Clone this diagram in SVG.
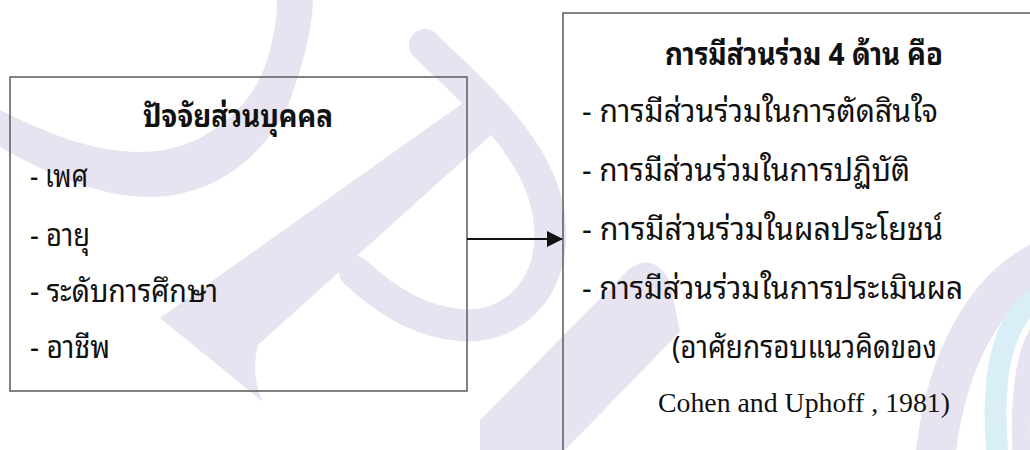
<svg xmlns="http://www.w3.org/2000/svg" width="1030" height="450" viewBox="0 0 1030 450">
  <style>
    .wm { fill: #e7e3f0; stroke: none; }
    .wms { fill: none; stroke: #e7e3f0; }
    .box { fill: none; stroke: #5a5a5a; stroke-width: 1.5; }
    .th { font-family: "Noto Sans Thai Looped", "Noto Serif Thai", "Noto Sans Thai", "Liberation Sans", sans-serif; fill: #111; }
    .thb { font-family: "Noto Sans Thai Looped", "Noto Serif Thai", "Noto Sans Thai", "Liberation Sans", sans-serif; font-weight: bold; fill: #111; }
    .en { font-family: "Liberation Serif", "Times New Roman", serif; fill: #111; }
  </style>
  <defs>
    <marker id="arrow" viewBox="0 0 16 16" refX="15" refY="8" markerWidth="16" markerHeight="16" markerUnits="userSpaceOnUse" orient="auto">
      <path d="M0,0 L16,8 L0,16 Z" fill="#111"/>
    </marker>
  </defs>
  <rect width="1030" height="450" fill="#ffffff"/>
  <g id="watermark">
    <path class="wm" d="M0,147 C50,175 100,197 150,197 C210,197 265,160 290,100 C303,65 312,30 313,0 L277,0 C277,30 268,70 250,95 C220,135 180,152 140,152 C90,152 40,130 0,110 Z"/>
    <path class="wm" d="M263,402 L160,318 L470,98 L510,118 L258,345 Q250,375 263,402 Z"/>
    <path class="wms" stroke-width="32" stroke-linecap="round" d="M425,45 C470,90 545,150 550,225 C555,290 510,330 460,325 C420,322 385,300 355,272"/>
    <path class="wm" d="M480,420 L630,268 Q655,252 670,282 L680,332 L563,452 L480,452 Z"/>
    <path class="wms" stroke-width="40" d="M935,460 C945,360 985,290 1040,262"/>
    <path fill="none" stroke="#d9eef6" stroke-width="22" d="M998,460 C990,380 1000,320 1040,295"/>
    <path class="wms" stroke-width="18" d="M1022,460 C1018,400 1025,350 1040,330"/>
  </g>
  <g id="node-personal">
    <rect class="box" x="10" y="77" width="457" height="314"/>
    <text class="thb" x="238" y="127" font-size="31" text-anchor="middle" textLength="190" lengthAdjust="spacingAndGlyphs">ปัจจัยส่วนบุคคล</text>
    <text class="th" x="30" y="187" font-size="31" textLength="58" lengthAdjust="spacingAndGlyphs">- เพศ</text>
    <text class="th" x="30" y="246" font-size="31" textLength="60" lengthAdjust="spacingAndGlyphs">- อายุ</text>
    <text class="th" x="30" y="302" font-size="31" textLength="188" lengthAdjust="spacingAndGlyphs">- ระดับการศึกษา</text>
    <text class="th" x="30" y="358" font-size="31" textLength="80" lengthAdjust="spacingAndGlyphs">- อาชีพ</text>
  </g>
  <g id="node-participation">
    <rect class="box" x="563" y="13" width="480" height="460"/>
    <text class="thb" x="804" y="65" font-size="31" text-anchor="middle" textLength="278" lengthAdjust="spacingAndGlyphs">การมีส่วนร่วม 4 ด้าน คือ</text>
    <text class="th" x="582" y="122" font-size="31" textLength="356" lengthAdjust="spacingAndGlyphs">- การมีส่วนร่วมในการตัดสินใจ</text>
    <text class="th" x="582" y="181" font-size="31" textLength="328" lengthAdjust="spacingAndGlyphs">- การมีส่วนร่วมในการปฏิบัติ</text>
    <text class="th" x="582" y="240" font-size="31" textLength="361" lengthAdjust="spacingAndGlyphs">- การมีส่วนร่วมในผลประโยชน์</text>
    <text class="th" x="582" y="299" font-size="31" textLength="381" lengthAdjust="spacingAndGlyphs">- การมีส่วนร่วมในการประเมินผล</text>
    <text class="th" x="672" y="358" font-size="31" textLength="265" lengthAdjust="spacingAndGlyphs">(อาศัยกรอบแนวคิดของ</text>
    <text class="en" x="658" y="412" font-size="28" textLength="292" lengthAdjust="spacingAndGlyphs">Cohen and Uphoff , 1981)</text>
  </g>
  <g id="connectors">
    <line x1="467" y1="239" x2="562" y2="239" stroke="#111" stroke-width="2" marker-end="url(#arrow)"/>
  </g>
</svg>
